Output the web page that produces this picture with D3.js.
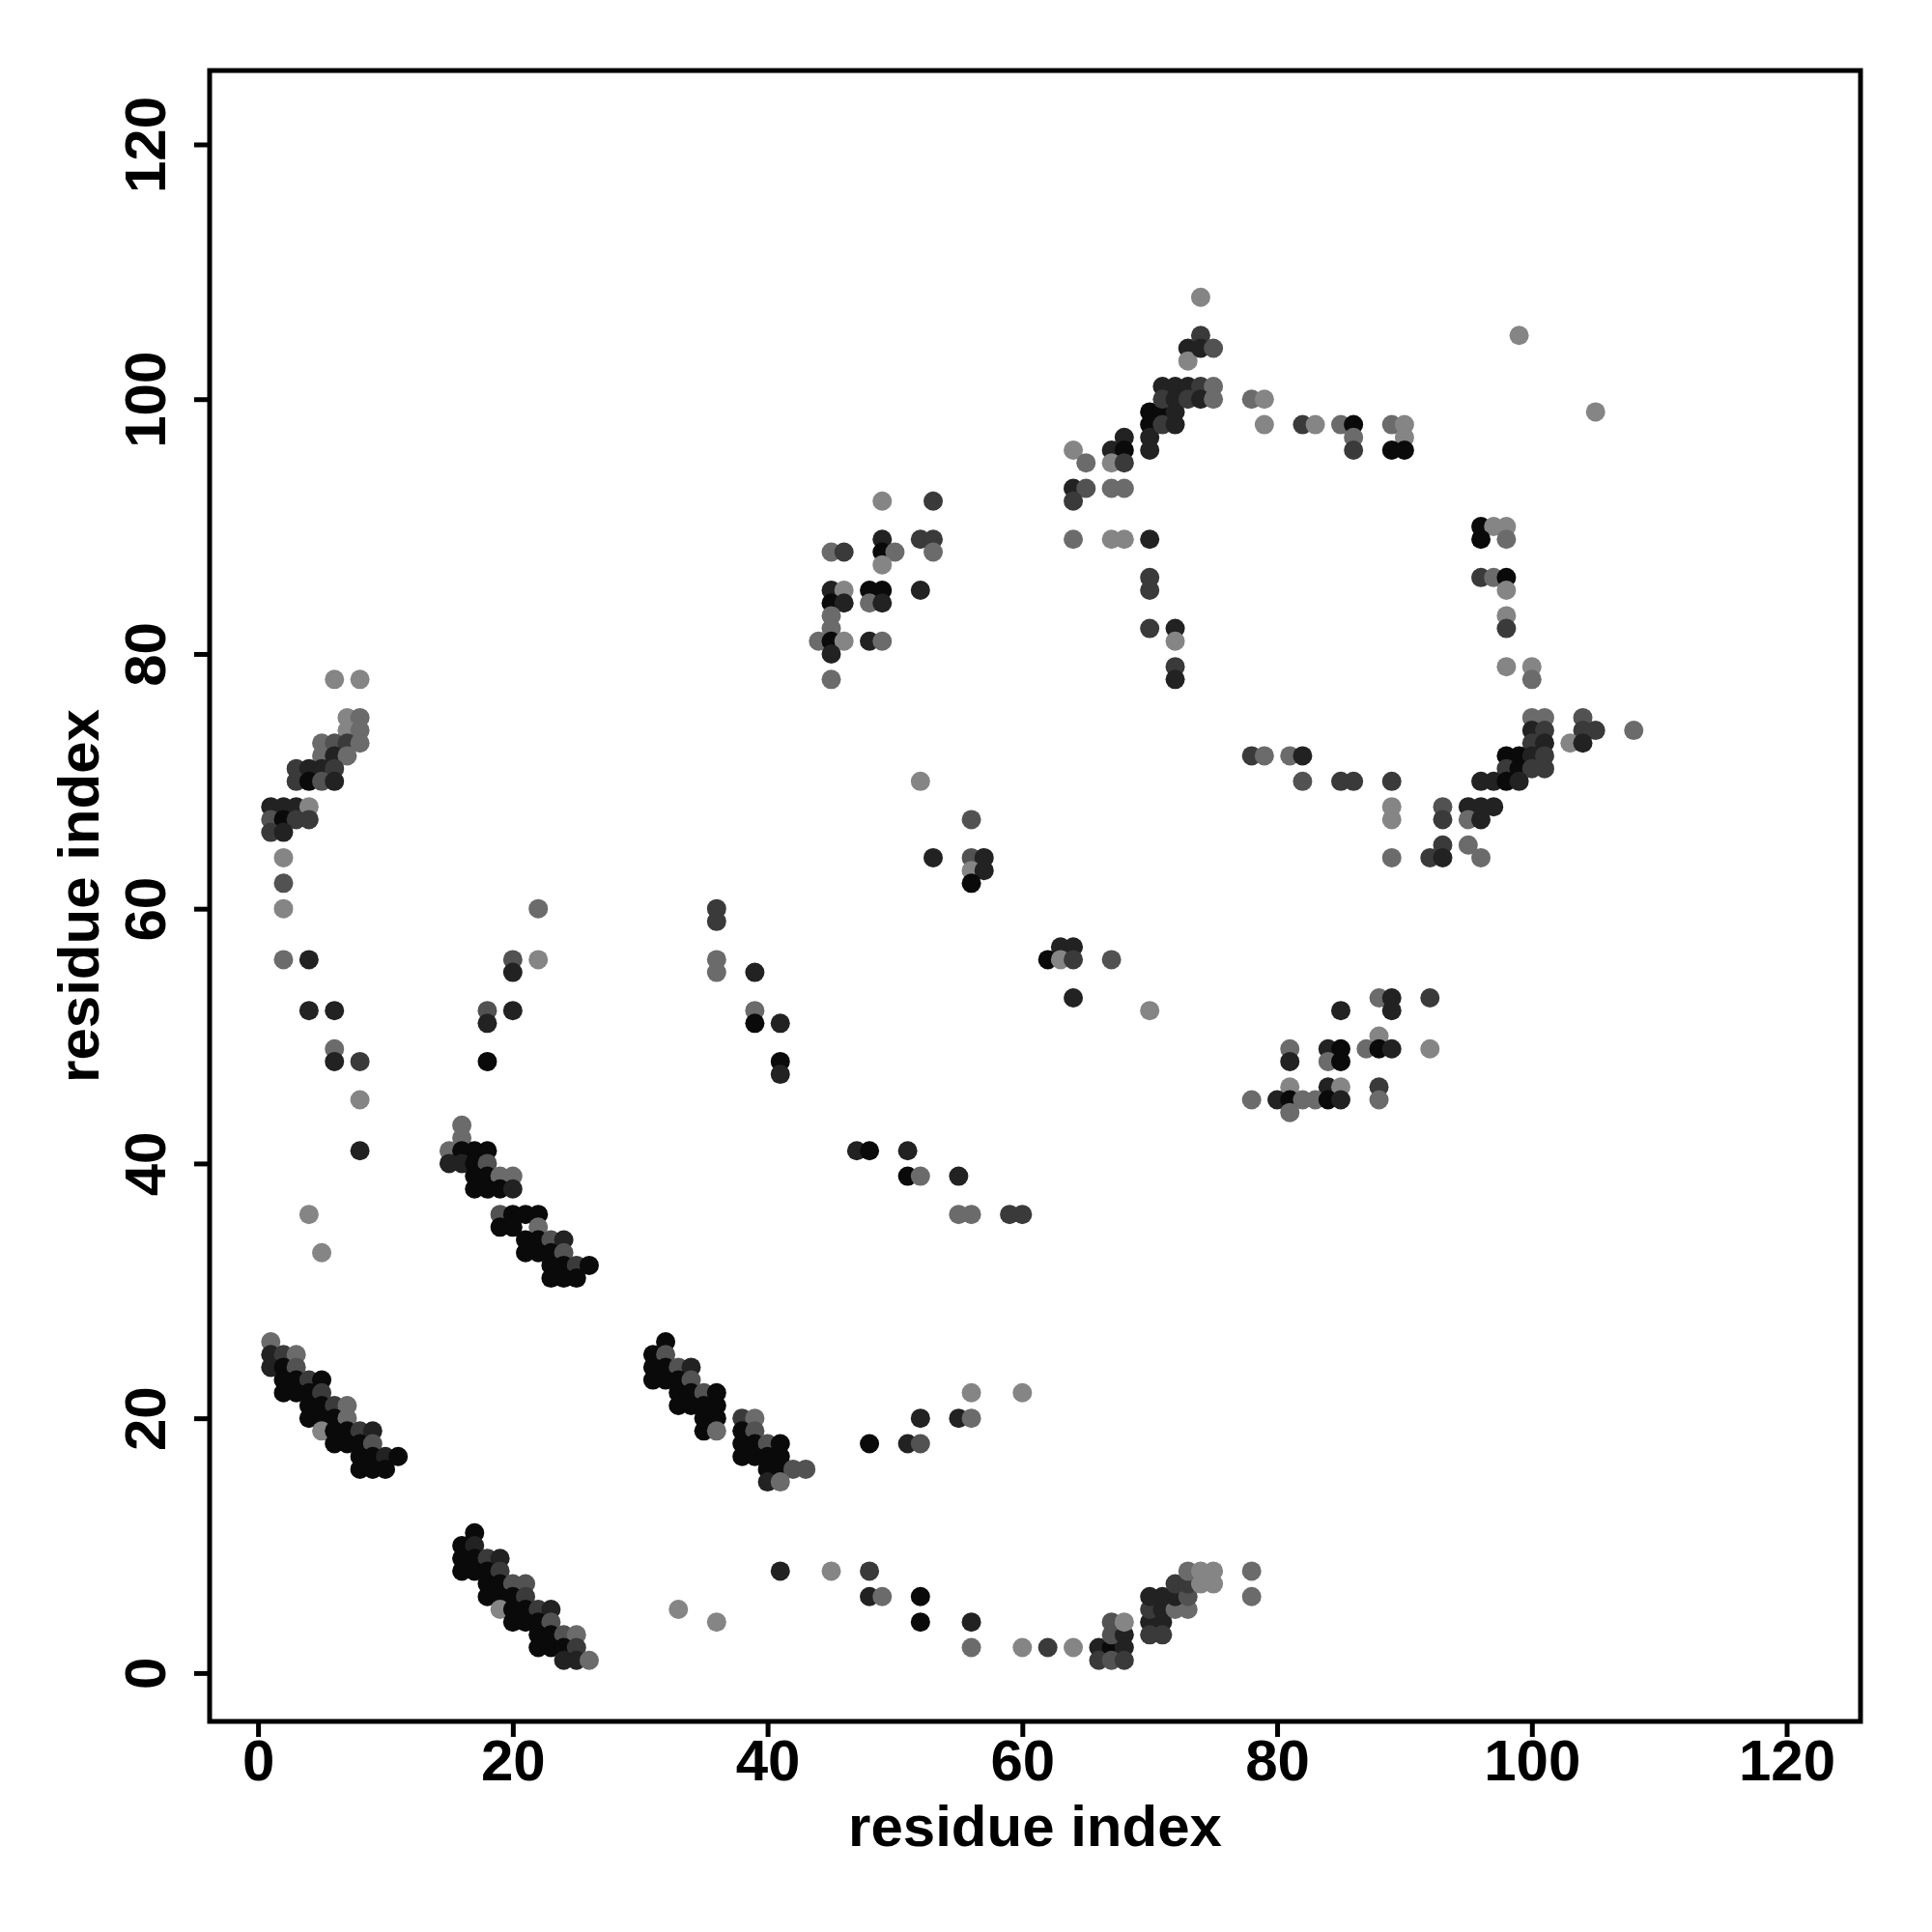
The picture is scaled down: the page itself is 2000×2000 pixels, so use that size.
<!DOCTYPE html>
<html>
<head>
<meta charset="utf-8">
<script src="https://cdn.jsdelivr.net/npm/d3@7"></script>
<style>
  html, body { margin: 0; padding: 0; background: #ffffff; }
  svg text { font-family: "Liberation Sans", Arial, Helvetica, sans-serif; font-weight: bold; }
</style>
</head>
<body>
<script>
// ---- Data: [residue i, residue j, shade level (0 = darkest ... 5 = lightest)] ----
const xTicks = [0, 20, 40, 60, 80, 100, 120];
const yTicks = [0, 20, 40, 60, 80, 100, 120];
const xLabel = "residue index";
const yLabel = "residue index";

const shadeColors = ["#0a0a0a", "#222222", "#3a3a3a", "#525252", "#6b6b6b", "#858585"];

const groupA = [
  [6,78,5],[8,78,5],[7,75,5],[8,75,4],[7,74,5],[8,74,4],
  [5,73,4],[6,73,3],[7,73,2],[8,73,4],[5,72,4],[6,72,1],[7,72,4],
  [3,71,2],[4,71,1],[5,71,1],[6,71,2],[3,70,2],[4,70,0],[5,70,3],[6,70,1],
  [1,68,1],[2,68,1],[3,68,1],[4,68,5],[1,67,3],[2,67,0],[3,67,2],[4,67,2],
  [1,66,2],[2,66,1],[2,64,5],[2,62,3],[2,60,5],[2,56,4],[4,56,1],
  [4,52,1],[6,52,1],[6,49,4],[6,48,1],[8,48,2],[8,45,5],[8,41,1],[4,36,5],[5,33,5]
];

const groupB = [
  [16,43,4],[16,42,4],[15,41,4],[16,41,0],[17,41,0],[18,41,0],
  [15,40,1],[16,40,1],[17,40,0],[18,40,3],[17,39,0],[18,39,0],[19,39,4],[20,39,4],
  [17,38,0],[18,38,0],[19,38,0],[20,38,1],[19,36,3],[20,36,0],[21,36,0],[22,36,0],
  [19,35,0],[20,35,0],[22,35,4],[21,34,0],[22,34,0],[23,34,3],[24,34,1],
  [21,33,0],[22,33,0],[23,33,0],[24,33,3],[23,32,0],[24,32,0],[25,32,2],[26,32,0],
  [23,31,0],[24,31,0],[25,31,0]
];

const groupC = [
  [1,26,4],[1,25,1],[2,25,2],[3,25,4],[1,24,1],[2,24,0],[3,24,3],
  [2,23,0],[3,23,0],[4,23,2],[5,23,0],[2,22,0],[3,22,0],[4,22,0],[5,22,2],
  [4,21,0],[5,21,0],[6,21,2],[7,21,4],[4,20,0],[5,20,0],[6,20,0],[7,20,4],
  [5,19,5],[6,19,0],[7,19,0],[8,19,2],[9,19,1],[6,18,0],[7,18,0],[8,18,0],[9,18,3],
  [8,17,0],[9,17,0],[10,17,1],[11,17,0],[8,16,0],[9,16,0],[10,16,0]
];

const groupD = [
  [32,26,0],[31,25,0],[32,25,3],[31,24,0],[32,24,0],[33,24,3],[34,24,1],
  [31,23,0],[32,23,0],[33,23,0],[34,23,3],[33,22,0],[34,22,0],[35,22,3],[36,22,0],
  [33,21,0],[34,21,0],[35,21,0],[36,21,0],[35,20,0],[36,20,0],[38,20,2],[39,20,4],
  [35,19,0],[36,19,4],[38,19,0],[39,19,3],[38,18,0],[39,18,0],[40,18,3],[41,18,0],
  [38,17,0],[39,17,0],[40,17,0],[41,17,0],[40,16,0],[41,16,0],[42,16,3],[43,16,3],
  [40,15,1],[41,15,4]
];

const groupE = [
  [17,11,0],[16,10,0],[17,10,1],[16,9,0],[17,9,0],[18,9,2],[19,9,1],
  [16,8,0],[17,8,0],[18,8,0],[19,8,2],[18,7,0],[19,7,0],[20,7,3],[21,7,3],
  [18,6,0],[19,6,0],[20,6,0],[21,6,2],[19,5,5],[20,5,0],[21,5,0],[22,5,2],[23,5,1],
  [20,4,0],[21,4,0],[22,4,0],[23,4,3],[22,3,0],[23,3,0],[24,3,3],[25,3,4],
  [22,2,0],[23,2,0],[24,2,0],[25,2,2],[24,1,1],[25,1,1],[26,1,4]
];

const groupF = [
  [33,5,5],[36,4,5],[41,8,1],[45,8,5],[48,8,2],[48,6,1],[49,6,4],[52,6,0],[52,4,0],[56,4,1],
  [56,2,4],[60,2,5],[62,2,2],[64,2,5],
  [48,18,0],[51,18,1],[52,18,3],[52,20,1],[55,20,1],[56,20,4],[56,22,5],[60,22,5]
];

const groupG = [
  [66,2,1],[67,2,0],[68,2,1],[66,1,2],[67,1,3],[68,1,2],[67,3,3],[68,3,1],[67,4,3],[68,4,5],
  [70,4,1],[71,4,1],[70,3,2],[71,3,2],[70,5,2],[71,5,1],[72,5,4],[73,5,4],
  [70,6,1],[71,6,1],[72,6,1],[73,6,3],[72,7,2],[73,7,2],[74,7,5],[75,7,5],
  [73,8,4],[74,8,5],[75,8,5],[78,8,4],[78,6,4]
];

const groupH = [
  [22,60,4],[22,56,5],[20,56,3],[20,55,1],[18,52,3],[18,51,1],[20,52,1],[18,48,0],
  [36,60,2],[36,59,2],[36,56,4],[36,55,4],[39,55,1],[39,52,4],[39,51,0],[41,51,1],[41,48,0],[41,47,1],
  [47,41,1],[48,41,0],[51,41,1],[51,39,0],[52,39,4],[55,39,1],[55,36,4],[56,36,4],[59,36,2],[60,36,2],
  [52,70,5],[56,67,3],[53,64,1],[56,64,3],[57,64,1],[56,63,5],[57,63,1],[56,62,0],
  [63,57,1],[64,57,1],[62,56,0],[63,56,5],[64,56,2],[67,56,3],[64,53,1],[70,52,5]
];

const groupI = [
  [45,88,4],[46,88,2],[49,92,5],[53,92,2],[49,89,1],[49,88,0],[50,88,4],[49,87,5],
  [52,89,2],[53,89,2],[53,88,4],[45,85,1],[46,85,5],[48,85,0],[49,85,0],[52,85,1],
  [45,84,0],[46,84,1],[48,84,4],[49,84,1],[45,83,4],[45,82,4],
  [44,81,4],[45,81,0],[46,81,5],[48,81,1],[49,81,4],[45,80,1],[45,78,4]
];

const groupJ = [
  [64,96,5],[65,95,4],[64,93,1],[65,93,3],[64,92,2],[64,89,4],[67,89,5],[68,89,5],[70,89,1],
  [67,96,1],[68,97,1],[68,96,0],[67,95,5],[68,95,2],[67,93,4],[68,93,4],
  [70,99,0],[70,98,0],[70,97,1],[70,96,1],[71,99,0],[71,98,2],[72,99,1],[72,98,1],
  [71,101,1],[72,101,1],[73,101,1],[74,101,2],[75,101,4],
  [71,100,2],[72,100,1],[73,100,2],[74,100,1],[75,100,4],
  [73,104,1],[73,103,5],[74,105,2],[74,104,1],[75,104,3],[74,108,5],
  [70,86,2],[70,85,2],[70,82,2],[72,82,1],[72,81,5],[72,79,2],[72,78,1]
];

const groupK = [
  [78,100,4],[79,100,5],[79,98,5],[82,98,2],[83,98,5],[85,98,4],[86,98,0],[86,97,4],[86,96,2],
  [89,98,4],[90,98,5],[90,97,5],[89,96,0],[90,96,0],[99,105,5],[105,99,5]
];

const groupL = [
  [96,90,0],[97,90,5],[98,90,5],[96,89,0],[98,89,4],
  [96,86,2],[97,86,4],[98,86,0],[98,85,5],[98,83,5],[98,82,2],
  [98,79,5],[100,79,5],[100,78,4]
];

const groupM = [
  [100,75,4],[101,75,4],[104,75,3],[100,74,1],[101,74,2],[104,74,2],[105,74,2],[108,74,4],
  [100,73,2],[101,73,1],[103,73,5],[104,73,1],[98,72,0],[99,72,0],[100,72,1],[101,72,2],
  [98,71,2],[99,71,0],[100,71,2],[101,71,2],[96,70,1],[97,70,1],[98,70,0],[99,70,1],
  [93,68,3],[95,68,1],[96,68,1],[97,68,1],[93,67,2],[95,67,4],[96,67,1],
  [93,65,2],[95,65,4],[92,64,2],[93,64,1],[96,64,4]
];

const groupN = [
  [78,72,2],[79,72,4],[81,72,4],[82,72,1],[82,70,3],[85,70,2],[86,70,2],[89,70,2],
  [89,68,5],[89,67,5],[89,64,4]
];

const groupO = [
  [88,53,4],[89,53,1],[92,53,2],[85,52,1],[89,52,1],[88,50,5],
  [81,49,4],[84,49,1],[85,49,0],[87,49,4],[88,49,0],[89,49,1],[92,49,5],
  [81,48,1],[84,48,4],[85,48,0],[81,46,5],[84,46,1],[85,46,5],[88,46,2],
  [78,45,4],[80,45,1],[81,45,0],[82,45,4],[83,45,4],[84,45,0],[85,45,1],[88,45,4],[81,44,4]
];

const points = [].concat(groupA, groupB, groupC, groupD, groupE, groupF, groupG,
                         groupH, groupI, groupJ, groupK, groupL, groupM, groupN, groupO)
  .map(d => ({ i: d[0], j: d[1], shade: d[2] }));

// ---- Layout ----
const W = 2000, H = 2000;
const box = { left: 217, right: 1926, top: 73, bottom: 1782 };
const fontSize = 60;

const svg = d3.select("body").append("svg")
  .attr("width", W).attr("height", H)
  .attr("viewBox", `0 0 ${W} ${H}`);

svg.append("rect").attr("width", W).attr("height", H).attr("fill", "#ffffff");

const x = d3.scaleLinear().domain([-3.8, 125.8]).range([box.left, box.right]);
const y = d3.scaleLinear().domain([-3.8, 125.8]).range([box.bottom, box.top]);

const color = d3.scaleOrdinal().domain(d3.range(shadeColors.length)).range(shadeColors);

// points
svg.append("g")
  .selectAll("circle")
  .data(points)
  .join("circle")
  .attr("cx", d => x(d.i))
  .attr("cy", d => y(d.j))
  .attr("r", 10)
  .attr("fill", d => color(d.shade));

// box
svg.append("rect")
  .attr("x", box.left).attr("y", box.top)
  .attr("width", box.right - box.left).attr("height", box.bottom - box.top)
  .attr("fill", "none").attr("stroke", "#000").attr("stroke-width", 5);

// x axis
const xAxis = d3.axisBottom(x).tickValues(xTicks).tickSize(16).tickPadding(8).tickFormat(d3.format("d"));
const gx = svg.append("g").attr("transform", `translate(0,${box.bottom})`).call(xAxis);
gx.select(".domain").remove();
gx.selectAll(".tick line").attr("stroke", "#000").attr("stroke-width", 5);
gx.selectAll(".tick text")
  .attr("fill", "#000")
  .style("font-size", fontSize + "px")
  .attr("y", null).attr("dy", null)
  .attr("transform", "translate(0,61)");

// y axis
const yAxis = d3.axisLeft(y).tickValues(yTicks).tickSize(16).tickPadding(8).tickFormat(d3.format("d"));
const gy = svg.append("g").attr("transform", `translate(${box.left},0)`).call(yAxis);
gy.select(".domain").remove();
gy.selectAll(".tick line").attr("stroke", "#000").attr("stroke-width", 5);
gy.selectAll(".tick text")
  .attr("fill", "#000")
  .style("font-size", fontSize + "px")
  .attr("x", null).attr("dy", null)
  .attr("text-anchor", "middle")
  .attr("transform", "translate(-46,0) rotate(-90)");

// axis titles
svg.append("text")
  .attr("x", (box.left + box.right) / 2)
  .attr("y", 1911)
  .attr("text-anchor", "middle")
  .style("font-size", fontSize + "px")
  .attr("fill", "#000")
  .text(xLabel);

svg.append("text")
  .attr("transform", `translate(102,${(box.top + box.bottom) / 2}) rotate(-90)`)
  .attr("text-anchor", "middle")
  .style("font-size", fontSize + "px")
  .attr("fill", "#000")
  .text(yLabel);
</script>
</body>
</html>
